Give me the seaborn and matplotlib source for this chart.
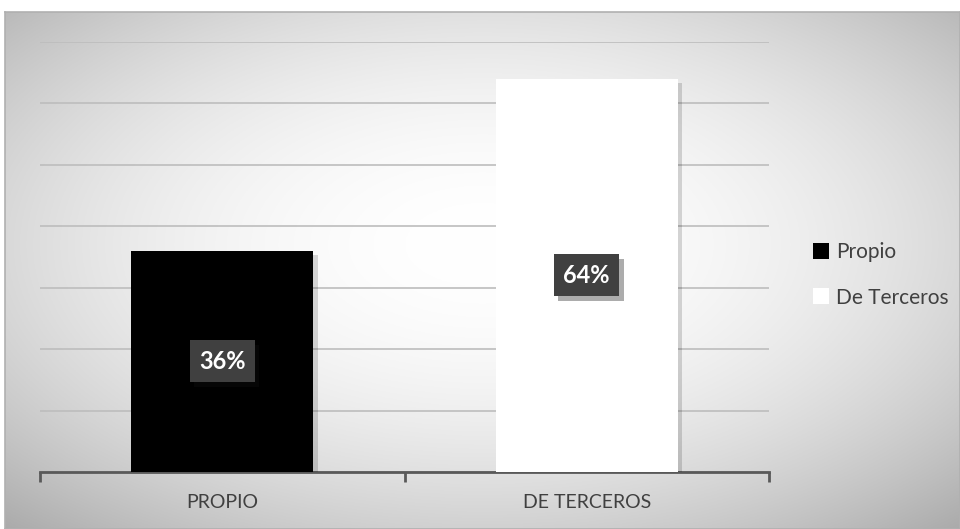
import numpy as np
import pandas as pd
import matplotlib
matplotlib.use("Agg")
import matplotlib.pyplot as plt
import matplotlib.patheffects as pe
from matplotlib.patches import Patch
import seaborn as sns

categories = ["PROPIO", "DE TERCEROS"]
legend_labels = ["Propio", "De Terceros"]
values = [36, 64]
bar_colors = ["#000000", "#ffffff"]
y_ticks = [0, 10, 20, 30, 40, 50, 60, 70]

df = pd.DataFrame({"Categoria": categories, "Valor": values})

sns.set_style("white")
plt.rcParams["font.family"] = ["Lato", "DejaVu Sans"]

fig = plt.figure(figsize=(9.6, 5.29), dpi=100)

# radial gradient background of the chart area
bg = fig.add_axes([5 / 960, 0, 955 / 960, 517 / 529])
yy, xx = np.mgrid[0:1:300j, 0:1:500j]
r2 = ((xx - 0.5) ** 2 + (yy - 0.55) ** 2) / 0.5
shade = 1 - 0.3 * r2
bg.imshow(np.dstack([shade, shade, shade]), extent=[0, 1, 0, 1], aspect="auto", origin="lower")
bg.set_xticks([])
bg.set_yticks([])
for s in bg.spines.values():
    s.set_color("#b0b0b0")
    s.set_linewidth(1.2)

ax = fig.add_axes([40 / 960, 57 / 529, 729 / 960, 430 / 529])
ax.patch.set_alpha(0)

sns.barplot(data=df, x="Categoria", y="Valor", hue="Categoria", palette=bar_colors,
            width=0.5, ax=ax, legend=False, saturation=1, zorder=3)
for p in ax.patches:
    p.set_edgecolor("none")
    p.set_path_effects([pe.SimplePatchShadow(offset=(3, -3), shadow_rgbFace="#000000", alpha=0.15),
                        pe.Normal()])

ax.set_ylim(0, 70)
ax.set_xlim(-0.5, 1.5)
ax.set_yticks(y_ticks)
ax.set_yticklabels([])
ax.yaxis.grid(True, color="#bdbdbd", linewidth=1.2, zorder=0)
ax.set_axisbelow(True)
ax.tick_params(axis="y", length=0)
ax.tick_params(axis="x", which="major", length=0, labelsize=14, labelcolor="#404040", pad=16)
ax.set_xticks([-0.5, 0.5, 1.5], minor=True)
ax.tick_params(axis="x", which="minor", bottom=True, length=7, width=2, color="#595959", direction="out")
ax.set_xlabel("")
ax.set_ylabel("")
for side in ["top", "right", "left"]:
    ax.spines[side].set_visible(False)
ax.spines["bottom"].set_color("#595959")
ax.spines["bottom"].set_linewidth(2)

# value labels in dark boxes
for i, v in enumerate(values):
    t = ax.text(i, v / 2, f"{v}%", ha="center", va="center", color="white",
                fontsize=17, fontweight="bold", zorder=5,
                bbox=dict(boxstyle="square,pad=0.4", facecolor="#404040", edgecolor="none"))
    t.get_bbox_patch().set_path_effects([pe.SimplePatchShadow(offset=(3, -3), alpha=0.35), pe.Normal()])

handles = [Patch(facecolor=c, edgecolor="none", label=l) for c, l in zip(bar_colors, legend_labels)]
fig.legend(handles=handles, loc="center left", bbox_to_anchor=(794 / 960, 1 - 275 / 529),
           frameon=False, fontsize=15, handlelength=0.8, handleheight=0.8,
           handletextpad=0.3, labelspacing=1.2, labelcolor="#404040")

fig.savefig("out.png", dpi=100)
